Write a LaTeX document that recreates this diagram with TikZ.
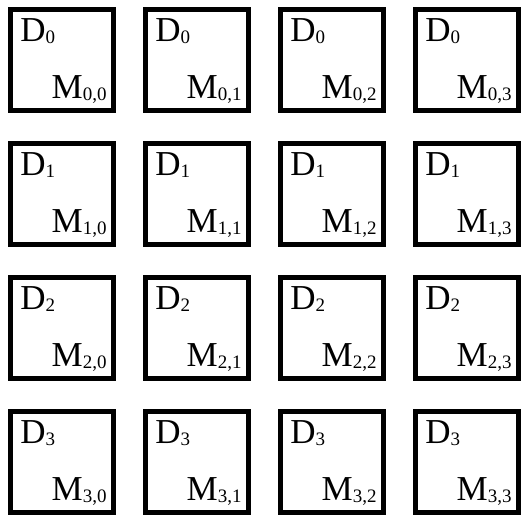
\documentclass[tikz,border=0pt]{standalone}
\usepackage{fontspec}
\setmainfont{Liberation Serif}
\usetikzlibrary{calc}
\newcommand{\lowidx}[1]{\raisebox{-2pt}{\fontsize{19}{19}\selectfont #1}}
\tikzset{
  cellbox/.style={rectangle, draw=black, fill=white, line width=4.5pt,
                  minimum width=103pt, minimum height=101pt, inner sep=0pt},
  dlabel/.style={inner sep=0pt, font=\fontsize{35}{38}\selectfont, anchor=base west},
  mlabel/.style={inner sep=0pt, font=\fontsize{35}{38}\selectfont, anchor=base east},
}
\begin{document}
\begin{tikzpicture}[x=1pt,y=1pt]
  \useasboundingbox (0,0) rectangle (522,517);
  % ---- 4 x 4 grid of cells ------------------------------------------------
  \foreach \r in {0,...,3} {
    \foreach \c in {0,...,3} {
      \node[cellbox] (box\r\c) at ({62+135*\c},{457-134*\r}) {};
      \node[dlabel] (d\r\c) at ($(box\r\c.north west)+(12,-34)$) {D\lowidx{\r}};
      \node[mlabel] (m\r\c) at ($(box\r\c.south east)+(-9,14)$) {M\lowidx{\r,\c}};
    }
  }
\end{tikzpicture}
\end{document}
